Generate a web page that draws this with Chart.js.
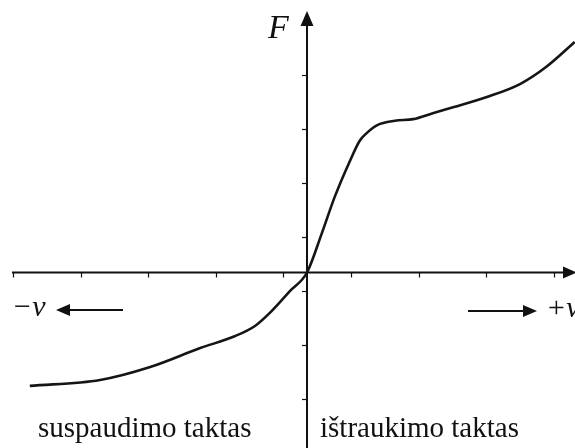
<!DOCTYPE html>
<html>
<head>
<meta charset="utf-8">
<script src="https://cdn.jsdelivr.net/npm/chart.js@4/dist/chart.umd.min.js"></script>
<style>
html,body{margin:0;padding:0;background:#fff;}
canvas{display:block;}
</style>
</head>
<body>
<canvas id="c" width="575" height="448"></canvas>
<script>
// Curve: velocity (v) vs damping force (F), in tick units
const velocity = [-4.10,-3.06,-2.32,-1.58,-1.07,-0.77,-0.52,-0.25,0,0.22,0.41,0.64,0.78,0.89,1.04,1.30,1.57,1.86,2.16,2.66,3.15,3.55,3.96];
const force    = [-2.10,-1.99,-1.75,-1.40,-1.18,-0.99,-0.71,-0.34,0,0.73,1.40,2.08,2.44,2.59,2.73,2.81,2.84,2.95,3.06,3.25,3.49,3.82,4.27];
const xTicks = [-4.35,-3.35,-2.35,-1.35,-0.35,0.65,1.65,2.65,3.65];
const yTicks = [-2.35,-1.35,-0.35,0.65,1.65,2.65,3.65];
const labels = {
  yAxis: 'F',
  left: '\u2212v',
  right: '+v',
  compression: 'suspaudimo taktas',
  rebound: 'ištraukimo taktas'
};

const axesPlugin = {
  id: 'axes',
  beforeDatasetsDraw(chart) {
    const ctx = chart.ctx;
    const xs = chart.scales.x, ys = chart.scales.y;
    const ox = xs.getPixelForValue(0), oy = ys.getPixelForValue(0);
    ctx.save();
    ctx.strokeStyle = '#111';
    ctx.fillStyle = '#111';
    ctx.lineWidth = 2;
    // x axis
    ctx.beginPath();
    ctx.moveTo(12, oy); ctx.lineTo(566, oy); ctx.stroke();
    ctx.beginPath();
    ctx.moveTo(577, oy); ctx.lineTo(563, oy - 6); ctx.lineTo(563, oy + 6); ctx.closePath(); ctx.fill();
    // y axis
    ctx.beginPath();
    ctx.moveTo(ox, 448); ctx.lineTo(ox, 22); ctx.stroke();
    ctx.beginPath();
    ctx.moveTo(ox, 11); ctx.lineTo(ox - 6.5, 26); ctx.lineTo(ox + 6.5, 26); ctx.closePath(); ctx.fill();
    // ticks
    ctx.lineWidth = 1.2;
    xTicks.forEach(t => {
      const px = Math.round(xs.getPixelForValue(t)) + 0.5;
      ctx.beginPath(); ctx.moveTo(px, oy); ctx.lineTo(px, oy + 5); ctx.stroke();
    });
    yTicks.forEach(t => {
      const py = Math.round(ys.getPixelForValue(t)) + 0.5;
      ctx.beginPath(); ctx.moveTo(ox - 5, py); ctx.lineTo(ox, py); ctx.stroke();
    });
    // direction arrows
    ctx.lineWidth = 2;
    ctx.beginPath(); ctx.moveTo(123, 310); ctx.lineTo(66, 310); ctx.stroke();
    ctx.beginPath(); ctx.moveTo(56, 310); ctx.lineTo(70, 304); ctx.lineTo(70, 316); ctx.closePath(); ctx.fill();
    ctx.beginPath(); ctx.moveTo(468, 311); ctx.lineTo(526, 311); ctx.stroke();
    ctx.beginPath(); ctx.moveTo(537, 311); ctx.lineTo(523, 305); ctx.lineTo(523, 317); ctx.closePath(); ctx.fill();
    // texts
    ctx.textBaseline = 'alphabetic';
    ctx.font = 'italic 34px "Liberation Serif", serif';
    ctx.textAlign = 'left';
    ctx.fillText(labels.yAxis, 268, 38);
    ctx.font = 'italic 30px "Liberation Serif", serif';
    ctx.fillText(labels.left, 12, 316);
    ctx.fillText(labels.right, 546, 317);
    ctx.font = '29px "Liberation Serif", serif';
    ctx.fillText(labels.compression, 38, 437);
    ctx.fillText(labels.rebound, 320, 437);
    ctx.restore();
  }
};

new Chart(document.getElementById('c'), {
  type: 'scatter',
  data: {
    datasets: [{
      data: velocity.map((v, i) => ({x: v, y: force[i]})),
      showLine: true,
      borderColor: '#151515',
      borderWidth: 2.6,
      pointRadius: 0,
      cubicInterpolationMode: 'monotone',
      fill: false
    }]
  },
  options: {
    responsive: false,
    animation: false,
    layout: {padding: 0},
    plugins: {legend: {display: false}, tooltip: {enabled: false}, title: {display: false}},
    scales: {
      x: {type: 'linear', display: false, min: -4.541, max: 3.964},
      y: {type: 'linear', display: false, min: -3.25, max: 5.046}
    }
  },
  plugins: [axesPlugin]
});
</script>
</body>
</html>
